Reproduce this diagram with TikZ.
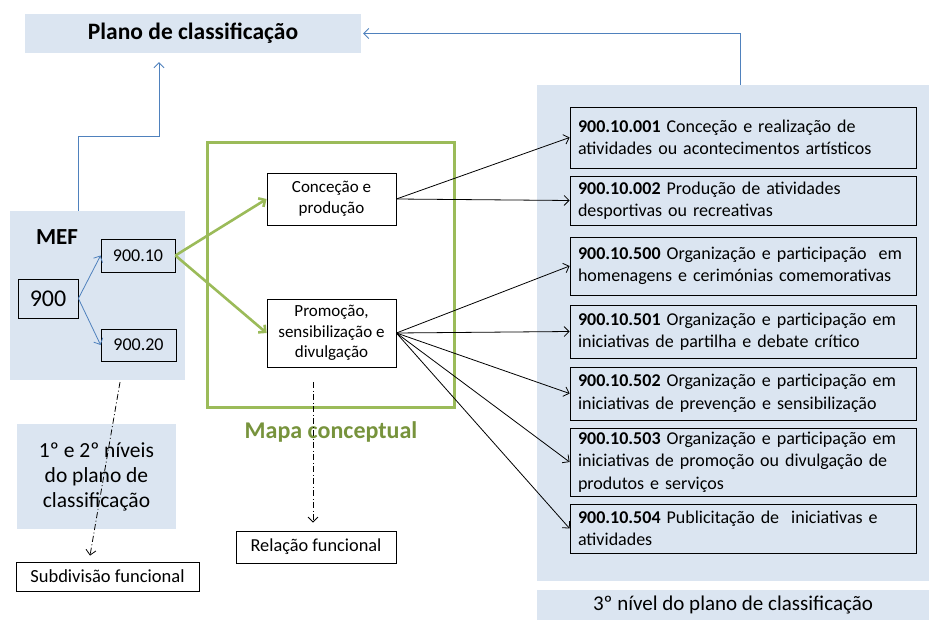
\documentclass[tikz,border=0pt]{standalone}
\usepackage{fontspec}
\setmainfont{Carlito}
\usetikzlibrary{arrows.meta}
\definecolor{panelblue}{HTML}{DBE5F1}
\definecolor{mapgreen}{HTML}{9BBB59}
\definecolor{mapgreendark}{HTML}{77933C}
\definecolor{linkblue}{HTML}{4F81BD}

\begin{document}
\begin{tikzpicture}[x=1pt, y=-1pt,
    >={Straight Barb[length=5pt, width=10pt]},
    panel/.style={fill=panelblue, inner sep=0pt},
    codebox/.style={draw, line width=0.8pt, inner sep=0pt},
    conceptbox/.style={codebox, align=center, font=\fontsize{17}{20.5}\selectfont},
    itembox/.style={draw, line width=0.8pt, inner xsep=8pt, inner ysep=0pt, text width=330pt,
        align=left, font=\fontsize{18}{22.5}\selectfont},
    bluelink/.style={->, linkblue, line width=0.8pt},
    greenlink/.style={->, mapgreen, line width=2.6pt},
    blacklink/.style={->, line width=0.8pt},
    dashlink/.style={->, dash pattern=on 6pt off 2.5pt on 1pt off 2.5pt, line width=0.8pt}
]
    \useasboundingbox (0,0) rectangle (929,620);

    % Plano de classificacao
    \node[panel, minimum width=336pt, minimum height=39pt, font=\bfseries\fontsize{23.5}{26}\selectfont]
        (titulo) at (193,33.5) {Plano de classificação};

    % MEF, 1st and 2nd levels
    \node[panel, minimum width=175pt, minimum height=169pt] (mef) at (97.5,295.5) {};
    \node[font=\bfseries\fontsize{23}{26}\selectfont] (meflabel) at (57,237) {MEF};
    \node[codebox, minimum width=60pt, minimum height=39pt, font=\fontsize{24}{26}\selectfont]
        (c900) at (48,298.5) {900};
    \node[codebox, minimum width=74pt, minimum height=33pt, font=\fontsize{18}{20}\selectfont]
        (c90010) at (138,255.5) {900.10};
    \node[codebox, minimum width=75pt, minimum height=32pt, font=\fontsize{18}{20}\selectfont]
        (c90020) at (138.5,345) {900.20};
    \draw[bluelink] (c900.east) -- (c90010.west);
    \draw[bluelink] (c900.east) -- (c90020.west);

    \node[panel, minimum width=159pt, minimum height=105pt, align=center, font=\fontsize{21.5}{25}\selectfont]
        (niveis) at (96.5,476.5) {1º e 2º níveis\\do plano de\\classificação};
    \node[codebox, minimum width=183pt, minimum height=29pt, font=\fontsize{18.5}{20}\selectfont]
        (subdiv) at (107.5,576.5) {Subdivisão funcional};

    % Mapa conceptual
    \node[draw=mapgreen, line width=3pt, minimum width=247pt, minimum height=264pt] (mapa) at (330.5,275) {};
    \node[text=mapgreendark, font=\bfseries\fontsize{24}{26}\selectfont] (mapalabel) at (331,432) {Mapa conceptual};
    \node[conceptbox, minimum width=129pt, minimum height=52pt] (concecao) at (331.5,199) {Conceção e\\produção};
    \node[conceptbox, minimum width=129pt, minimum height=68pt] (promocao) at (331.5,333)
        {Promoção,\\sensibilização e\\divulgação};
    \node[codebox, minimum width=160pt, minimum height=32pt, font=\fontsize{18.3}{20}\selectfont]
        (relacao) at (316,547) {Relação funcional};
    \draw[greenlink] (c90010.east) -- (concecao.west);
    \draw[greenlink] (c90010.east) -- (promocao.west);

    % 3rd level
    \node[panel, minimum width=392pt, minimum height=496pt] (nivel3) at (733,333) {};
    \node[panel, minimum width=392pt, minimum height=30pt, font=\fontsize{21}{24}\selectfont]
        (nivel3label) at (733,605) {3º nível do plano de classificação};
    \foreach \id/\cy/\h/\txt in {
        001/137.5/61/{\textbf{900.10.001} Conceção e realização de\\atividades ou acontecimentos artísticos},
        002/200.5/49/{\textbf{900.10.002} Produção de atividades\\desportivas ou recreativas},
        500/266/58/{\textbf{900.10.500} Organização e participação~ em\\homenagens e cerimónias comemorativas},
        501/331.5/53/{\textbf{900.10.501} Organização e participação em\\iniciativas de partilha e debate crítico},
        502/393.5/53/{\textbf{900.10.502} Organização e participação em\\iniciativas de prevenção e sensibilização},
        503/462/68/{\textbf{900.10.503} Organização e participação em\\iniciativas de promoção ou divulgação de\\produtos e serviços},
        504/528.5/49/{\textbf{900.10.504} Publicitação de~ iniciativas e\\atividades}} {
        \node[itembox, minimum height=\h pt] (i\id) at (743,\cy) {\txt};
    }

    % links to the 3rd level
    \foreach \id in {001,002}
        \draw[blacklink] (concecao.east) -- (i\id.west);
    \foreach \id in {500,501,502,503,504}
        \draw[blacklink] (promocao.east) -- (i\id.west);

    % back to the plan
    \draw[bluelink] ([xshift=-19.5pt]mef.north) |- (159,136) -- ([xshift=-34pt,yshift=-9pt]titulo.south);
    \draw[bluelink] ([xshift=7pt]nivel3.north) |- ([xshift=2pt]titulo.east);

    % functional relations
    \draw[dashlink] ([xshift=22.5pt,yshift=-2pt]mef.south) -- ([xshift=-17.5pt,yshift=6pt]subdiv.north);
    \draw[dashlink] ([xshift=-18.5pt,yshift=-15pt]promocao.south) -- ([xshift=-3pt,yshift=8pt]relacao.north);
\end{tikzpicture}
\end{document}
